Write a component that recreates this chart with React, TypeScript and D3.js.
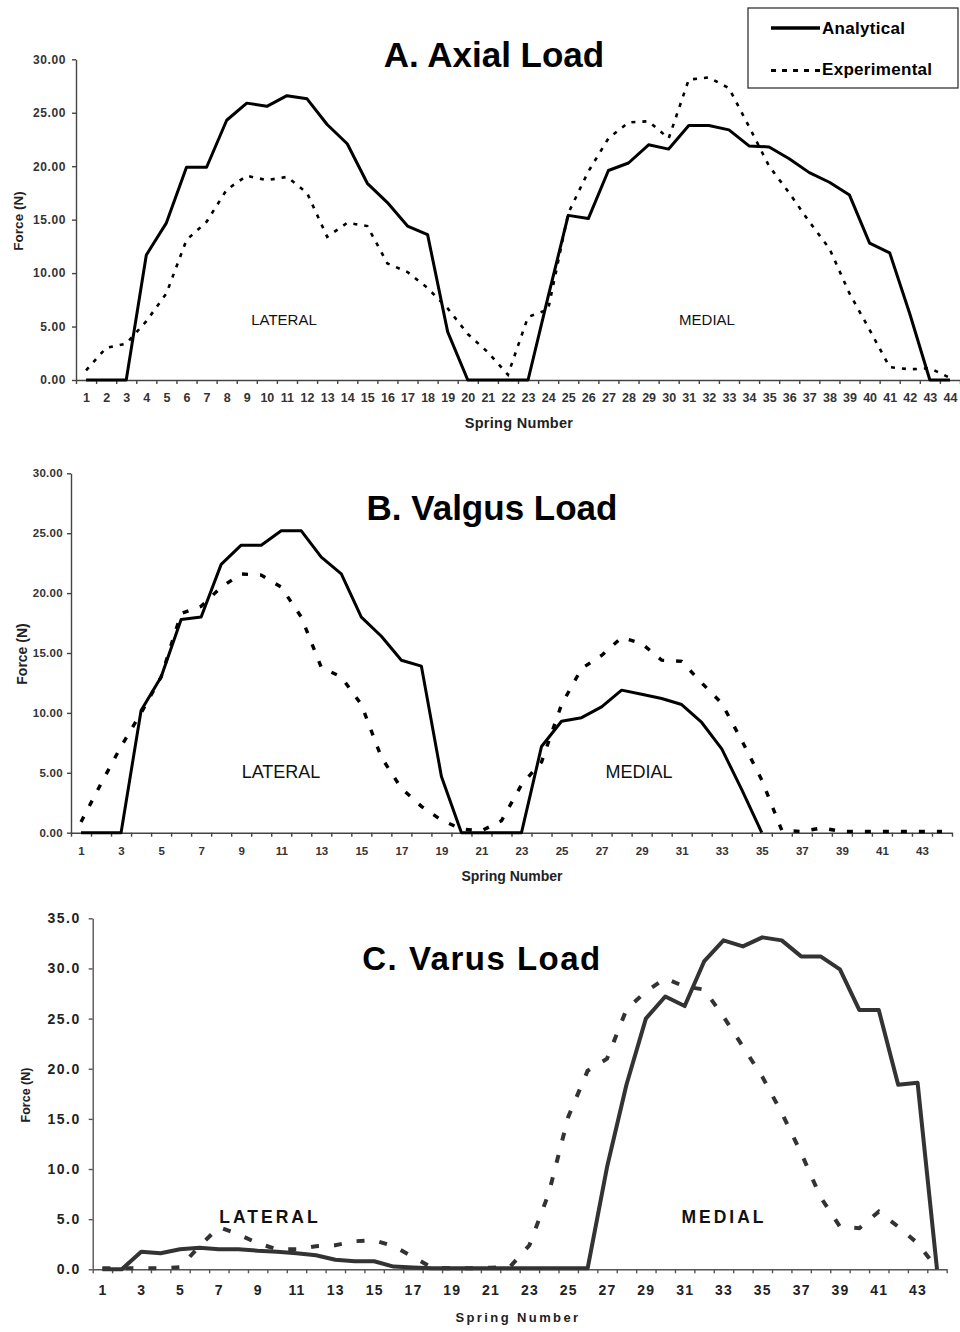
import React, { useEffect, useRef } from "react";
import * as d3 from "d3";

// spring numbers 1..44
const springs = [
  1, 2, 3, 4, 5, 6, 7, 8, 9, 10, 11, 12, 13, 14, 15, 16, 17, 18, 19, 20, 21, 22,
  23, 24, 25, 26, 27, 28, 29, 30, 31, 32, 33, 34, 35, 36, 37, 38, 39, 40, 41, 42, 43, 44,
];
const oddSprings = springs.filter((s) => s % 2 === 1);

const forceTicks30 = [0, 5, 10, 15, 20, 25, 30];
const forceTicks35 = [0, 5, 10, 15, 20, 25, 30, 35];

// A. Axial load
const axialAnalytical = [
  0, 0, 0, 11.7, 14.7, 19.9, 19.9, 24.3, 25.9, 25.6, 26.6, 26.3, 23.9, 22.1, 18.4, 16.6,
  14.4, 13.6, 4.5, 0, 0, 0, 0, 7.8, 15.4, 15.1, 19.6, 20.3, 22.0, 21.6, 23.8, 23.8, 23.4,
  21.9, 21.8, 20.7, 19.4, 18.5, 17.3, 12.8, 11.9, 6.2, 0, 0,
];
const axialExperimental = [
  0.9, 3.0, 3.4, 5.5, 8.1, 13.1, 14.8, 17.8, 19.1, 18.7, 19.0, 17.5, 13.4, 14.7, 14.4, 10.9,
  10.1, 8.6, 6.7, 4.3, 2.6, 0.5, 5.9, 6.6, 15.6, 19.5, 22.6, 24.1, 24.2, 22.6, 28.1, 28.3,
  27.3, 23.7, 20.0, 17.5, 14.8, 12.3, 8.1, 4.7, 1.2, 1.0, 1.1, 0.2,
];

// B. Valgus load
const valgusAnalytical = [
  0, 0, 0, 10.2, 13.0, 17.8, 18.0, 22.4, 24.0, 24.0, 25.2, 25.2, 23.0, 21.6, 18.0, 16.4,
  14.4, 13.9, 4.7, 0, 0, 0, 0, 7.2, 9.3, 9.6, 10.5, 11.9, 11.55, 11.2, 10.7, 9.2, 7.0, 3.6,
  0, null, null, null, null, null, null, null, null, null,
];
const valgusExperimental = [
  0.9, 4.1, 7.2, 10.0, 13.0, 18.3, 18.9, 20.5, 21.6, 21.5, 20.5, 18.0, 13.8, 13.0, 10.7, 6.3,
  3.7, 2.2, 1.05, 0.3, 0.15, 1.0, 4.0, 5.9, 10.7, 13.7, 14.8, 16.3, 15.8, 14.4, 14.3, 12.5,
  10.8, 7.7, 4.4, 0.2, 0.1, 0.4, 0.1, 0.1, 0.1, 0.1, 0.1, 0.1,
];

// C. Varus load
const varusAnalytical = [
  0, 0, 1.75, 1.6, 2.0, 2.15, 2.0, 2.0, 1.85, 1.75, 1.6, 1.4, 0.95, 0.8, 0.8, 0.27, 0.17,
  0.1, 0.1, 0.1, 0.1, 0.1, 0.1, 0.1, 0.1, 0.1, 10.2, 18.4, 25.0, 27.2, 26.25, 30.7, 32.8,
  32.2, 33.1, 32.8, 31.2, 31.2, 29.9, 25.85, 25.85, 18.4, 18.6, 0,
];
const varusExperimental = [
  0.1, 0.1, 0.1, 0.1, 0.2, 2.3, 4.2, 3.5, 2.6, 2.0, 2.0, 2.3, 2.4, 2.8, 2.9, 2.3, 1.25,
  0.15, 0.1, 0.1, 0.15, 0.25, 2.4, 7.6, 15.2, 19.8, 21.0, 25.9, 27.7, 29.0, 28.2, 27.9,
  25.2, 22.2, 19.2, 15.6, 11.6, 7.2, 4.25, 4.1, 5.75, 4.25, 2.6, 0.1,
];

const FONT = "'Liberation Sans', Arial, Helvetica, sans-serif";

const panels = [
  {
    title: "A. Axial Load", titleX: 494, titleY: 67, titleSize: 35, titleSpacing: 0,
    x0: 76, x1: 960, yTop: 59.3, yBot: 380, yMax: 30, yTicks: forceTicks30, yFmt: ".2f",
    xLabels: springs, analytical: axialAnalytical, experimental: axialExperimental,
    ink: "#000", axis: "#444", tickText: "#333",
    solidW: 3, dashW: 2.6, dash: "4,7",
    yLabFs: 12, yLabDx: -10, yLabSpacing: 0.6, xLabFs: 12.5, xLabY: 21.7, xLabSpacing: 0,
    yTitleX: 18, yTitleY: 221, yTitleFs: 13.5,
    xTitleX: 519, xTitleY: 428, xTitleFs: 14.5, xTitleSpacing: 0.3,
    notes: [
      { text: "LATERAL", x: 284, y: 325, fs: 15, bold: false, spacing: 0 },
      { text: "MEDIAL", x: 707, y: 325, fs: 15, bold: false, spacing: 0 },
    ],
  },
  {
    title: "B. Valgus Load", titleX: 492, titleY: 520, titleSize: 35, titleSpacing: 0,
    x0: 71, x1: 952, yTop: 473.3, yBot: 832.7, yMax: 30, yTicks: forceTicks30, yFmt: ".2f",
    xLabels: oddSprings, analytical: valgusAnalytical, experimental: valgusExperimental,
    ink: "#000", axis: "#444", tickText: "#333",
    solidW: 3, dashW: 3.4, dash: "6,12",
    yLabFs: 11.5, yLabDx: -8, yLabSpacing: 0.3, xLabFs: 11.5, xLabY: 22.3, xLabSpacing: 0,
    yTitleX: 22, yTitleY: 654, yTitleFs: 14,
    xTitleX: 512, xTitleY: 881, xTitleFs: 14, xTitleSpacing: 0,
    notes: [
      { text: "LATERAL", x: 281, y: 778, fs: 18, bold: false, spacing: 0 },
      { text: "MEDIAL", x: 639, y: 778, fs: 18, bold: false, spacing: 0 },
    ],
  },
  {
    title: "C. Varus Load", titleX: 482, titleY: 970, titleSize: 33, titleSpacing: 1.5,
    x0: 92.7, x1: 946.7, yTop: 918.3, yBot: 1269.3, yMax: 35, yTicks: forceTicks35, yFmt: ".1f",
    xLabels: oddSprings, analytical: varusAnalytical, experimental: varusExperimental,
    ink: "#333", axis: "#555", tickText: "#222",
    solidW: 4, dashW: 4, dash: "8,15",
    yLabFs: 14, yLabDx: -12, yLabSpacing: 1.5, xLabFs: 14, xLabY: 25.7, xLabSpacing: 1.2,
    yTitleX: 26, yTitleY: 1095, yTitleFs: 12.5,
    xTitleX: 518, xTitleY: 1322, xTitleFs: 13, xTitleSpacing: 2.4,
    notes: [
      { text: "LATERAL", x: 270, y: 1223, fs: 17.5, bold: true, spacing: 3 },
      { text: "MEDIAL", x: 724, y: 1223, fs: 17.5, bold: true, spacing: 3 },
    ],
  },
];

function drawPanel(root, p) {
  const g = root.append("g");
  const x = d3.scaleLinear().domain([0.5, 44.5]).range([p.x0, p.x1]);
  const y = d3.scaleLinear().domain([0, p.yMax]).range([p.yBot, p.yTop]);

  // y axis
  const ya = g
    .append("g")
    .attr("transform", `translate(${p.x0},0)`)
    .call(
      d3.axisLeft(y).tickValues(p.yTicks).tickFormat(d3.format(p.yFmt)).tickSize(4).tickSizeOuter(0)
    );
  ya.selectAll("path, line").attr("stroke", p.axis).attr("stroke-width", 1.4);
  ya.selectAll("text")
    .attr("x", p.yLabDx)
    .attr("fill", p.tickText)
    .style("font-family", FONT)
    .style("font-weight", "bold")
    .style("font-size", `${p.yLabFs}px`)
    .style("letter-spacing", `${p.yLabSpacing}px`);

  // x axis: tick marks between springs, labels at springs
  const boundaries = d3.range(0.5, 45, 1);
  const xa = g
    .append("g")
    .attr("transform", `translate(0,${p.yBot})`)
    .call(d3.axisBottom(x).tickValues(boundaries).tickFormat(() => "").tickSize(4).tickSizeOuter(0));
  xa.selectAll("path, line").attr("stroke", p.axis).attr("stroke-width", 1.4);

  const xl = g
    .append("g")
    .attr("transform", `translate(0,${p.yBot})`)
    .call(d3.axisBottom(x).tickValues(p.xLabels).tickSize(0));
  xl.select(".domain").remove();
  xl.selectAll("text")
    .attr("y", p.xLabY)
    .attr("dy", 0)
    .attr("fill", p.tickText)
    .style("font-family", FONT)
    .style("font-weight", "bold")
    .style("font-size", `${p.xLabFs}px`)
    .style("letter-spacing", `${p.xLabSpacing}px`);

  const line = d3
    .line()
    .defined((d) => d != null)
    .x((d, i) => x(springs[i]))
    .y((d) => y(d));

  g.append("path")
    .attr("d", line(p.experimental))
    .attr("fill", "none")
    .attr("stroke", p.ink)
    .attr("stroke-width", p.dashW)
    .attr("stroke-dasharray", p.dash);

  g.append("path")
    .attr("d", line(p.analytical))
    .attr("fill", "none")
    .attr("stroke", p.ink)
    .attr("stroke-width", p.solidW)
    .attr("stroke-linejoin", "round");

  // titles and labels
  g.append("text")
    .attr("x", p.titleX)
    .attr("y", p.titleY)
    .attr("text-anchor", "middle")
    .style("font-family", FONT)
    .style("font-weight", "bold")
    .style("font-size", `${p.titleSize}px`)
    .style("letter-spacing", `${p.titleSpacing}px`)
    .text(p.title);

  g.append("text")
    .attr("transform", `translate(${p.yTitleX},${p.yTitleY}) rotate(-90)`)
    .attr("text-anchor", "middle")
    .attr("dy", "0.35em")
    .attr("fill", "#222")
    .style("font-family", FONT)
    .style("font-weight", "bold")
    .style("font-size", `${p.yTitleFs}px`)
    .text("Force (N)");

  g.append("text")
    .attr("x", p.xTitleX)
    .attr("y", p.xTitleY)
    .attr("text-anchor", "middle")
    .attr("fill", "#222")
    .style("font-family", FONT)
    .style("font-weight", "bold")
    .style("font-size", `${p.xTitleFs}px`)
    .style("letter-spacing", `${p.xTitleSpacing}px`)
    .text("Spring Number");

  p.notes.forEach((n) => {
    g.append("text")
      .attr("x", n.x)
      .attr("y", n.y)
      .attr("text-anchor", "middle")
      .attr("fill", "#111")
      .style("font-family", FONT)
      .style("font-weight", n.bold ? "bold" : "normal")
      .style("font-size", `${n.fs}px`)
      .style("letter-spacing", `${n.spacing}px`)
      .text(n.text);
  });
}

export default function App() {
  const ref = useRef(null);

  useEffect(() => {
    const svg = d3.select(ref.current);
    svg.selectAll("*").remove();

    panels.forEach((p) => drawPanel(svg, p));

    // legend
    const lg = svg.append("g");
    lg.append("rect")
      .attr("x", 748)
      .attr("y", 8)
      .attr("width", 210)
      .attr("height", 80)
      .attr("fill", "#fff")
      .attr("stroke", "#333")
      .attr("stroke-width", 1.3);
    lg.append("line")
      .attr("x1", 771).attr("x2", 820).attr("y1", 28).attr("y2", 28)
      .attr("stroke", "#000").attr("stroke-width", 3.5);
    lg.append("line")
      .attr("x1", 771).attr("x2", 820).attr("y1", 70.5).attr("y2", 70.5)
      .attr("stroke", "#000").attr("stroke-width", 3).attr("stroke-dasharray", "5,6");
    [["Analytical", 33.5], ["Experimental", 75]].forEach(([t, yy]) => {
      lg.append("text")
        .attr("x", 822)
        .attr("y", yy)
        .style("font-family", FONT)
        .style("font-weight", "bold")
        .style("font-size", "17px")
        .style("letter-spacing", "0.3px")
        .text(t);
    });
  }, []);

  return (
    <svg
      ref={ref}
      width={960}
      height={1332}
      style={{ position: "absolute", left: 0, top: 0, background: "#fff" }}
    />
  );
}
